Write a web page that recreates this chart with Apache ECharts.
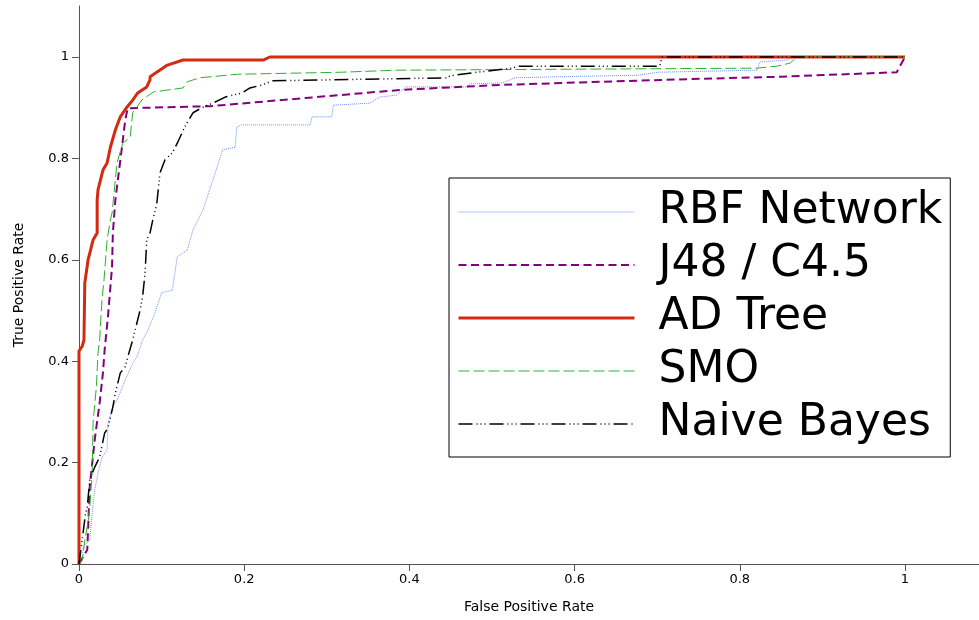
<!DOCTYPE html>
<html>
<head>
<meta charset="utf-8">
<title>ROC curves</title>
<script src="https://cdn.jsdelivr.net/npm/echarts@6/dist/echarts.min.js"></script>
<style>
html,body{margin:0;padding:0;background:#fff;}
#chart{width:979px;height:620px;}
</style>
</head>
<body>
<div id="chart"></div>
<script>
// ROC points [false positive rate, true positive rate]
var names = ["RBF Network", "J48 / C4.5", "AD Tree", "SMO", "Naive Bayes"];
var tickValues = [0, 0.2, 0.4, 0.6, 0.8, 1];

var rbfNetwork = [[0,0],[0.004,0.008],[0.005,0.034],[0.013,0.047],[0.016,0.101],[0.019,0.146],[0.023,0.179],[0.028,0.211],[0.034,0.225],[0.035,0.278],[0.041,0.31],[0.046,0.323],[0.056,0.363],[0.065,0.396],[0.07,0.408],[0.077,0.442],[0.082,0.456],[0.092,0.495],[0.1,0.535],[0.113,0.54],[0.116,0.574],[0.119,0.606],[0.131,0.619],[0.138,0.659],[0.15,0.698],[0.162,0.757],[0.174,0.817],[0.189,0.822],[0.191,0.862],[0.197,0.866],[0.28,0.866],[0.282,0.882],[0.306,0.882],[0.308,0.905],[0.352,0.909],[0.364,0.921],[0.385,0.925],[0.395,0.941],[0.471,0.941],[0.473,0.947],[0.513,0.949],[0.528,0.959],[0.579,0.961],[0.676,0.964],[0.701,0.97],[0.821,0.974],[0.824,0.99],[0.857,0.994],[0.864,1],[1,1]];

var j48 = [[0,0],[0.01,0.028],[0.013,0.152],[0.019,0.245],[0.025,0.318],[0.029,0.377],[0.031,0.422],[0.035,0.487],[0.04,0.586],[0.041,0.653],[0.044,0.718],[0.046,0.744],[0.052,0.822],[0.056,0.876],[0.059,0.899],[0.159,0.903],[0.288,0.921],[0.389,0.935],[0.51,0.945],[0.631,0.951],[0.752,0.957],[0.849,0.961],[0.99,0.97],[0.998,0.994],[1,1]];

var adTree = [[0,0],[0,0.42],[0.004,0.43],[0.006,0.442],[0.007,0.554],[0.011,0.6],[0.017,0.639],[0.022,0.653],[0.022,0.718],[0.023,0.738],[0.029,0.777],[0.034,0.791],[0.038,0.822],[0.044,0.856],[0.05,0.882],[0.058,0.901],[0.065,0.915],[0.071,0.929],[0.082,0.941],[0.086,0.955],[0.086,0.961],[0.107,0.984],[0.126,0.994],[0.223,0.994],[0.231,1],[1,1]];

var smo = [[0,0],[0.004,0.008],[0.007,0.047],[0.011,0.083],[0.013,0.112],[0.016,0.179],[0.017,0.278],[0.021,0.349],[0.023,0.416],[0.025,0.442],[0.028,0.527],[0.03,0.554],[0.034,0.639],[0.038,0.679],[0.04,0.692],[0.046,0.791],[0.053,0.83],[0.062,0.842],[0.065,0.89],[0.076,0.915],[0.09,0.931],[0.126,0.939],[0.131,0.951],[0.146,0.959],[0.192,0.966],[0.318,0.97],[0.385,0.974],[0.821,0.978],[0.845,0.982],[0.861,0.988],[0.869,1],[1,1]];

var naiveBayes = [[0,0],[0.008,0.1],[0.01,0.112],[0.013,0.166],[0.019,0.191],[0.025,0.211],[0.031,0.258],[0.035,0.268],[0.041,0.31],[0.044,0.337],[0.05,0.377],[0.056,0.389],[0.059,0.408],[0.065,0.442],[0.074,0.501],[0.077,0.527],[0.08,0.574],[0.082,0.639],[0.086,0.653],[0.09,0.684],[0.094,0.708],[0.098,0.771],[0.104,0.797],[0.113,0.811],[0.119,0.83],[0.128,0.862],[0.138,0.89],[0.15,0.901],[0.162,0.909],[0.177,0.921],[0.197,0.929],[0.207,0.939],[0.222,0.945],[0.234,0.953],[0.446,0.959],[0.449,0.963],[0.482,0.97],[0.525,0.978],[0.531,0.982],[0.703,0.982],[0.706,1],[1,1]];

var colors = ["#6a8ff0", "#800080", "#d42a10", "#2cb02c", "#000"];
var widths = [1, 2, 3, 1, 1.5];
var dashes = [[1, 1], [8, 4.5], "solid", [11, 4], [14, 4, 1, 3, 1, 3, 1, 4]];
var font = "DejaVu Sans";

function lineSeries(i, data) {
    return {
        name: names[i],
        type: "line",
        data: data,
        symbol: "none",
        animation: false,
        lineStyle: {color: colors[i], width: widths[i], type: dashes[i]},
        itemStyle: {color: colors[i]}
    };
}

function axisBase(name, gap, maxv, labelGap) {
    return {
        type: "value",
        min: 0,
        max: maxv,
        name: name,
        nameLocation: "middle",
        nameGap: gap,
        nameTextStyle: {fontFamily: font, fontSize: 14, color: "#000"},
        splitLine: {show: false},
        axisLine: {show: true, lineStyle: {color: "#555", width: 1}},
        axisTick: {show: true, inside: false, length: 7, customValues: tickValues, lineStyle: {color: "#555"}},
        axisLabel: {fontFamily: font, fontSize: 13, color: "#000", customValues: tickValues, margin: labelGap}
    };
}

// legend entries carry their own line width so the thick AD Tree sample shows
var legendData = names.map(function (n, i) {
    return {name: n, lineStyle: {color: colors[i], width: widths[i], type: dashes[i]}};
});

var chart = echarts.init(document.getElementById("chart"));
var option = {
    backgroundColor: "#fff",
    animation: false,
    grid: {left: 79, right: 0, top: 6, bottom: 56, containLabel: false},
    xAxis: axisBase("False Positive Rate", 36, 1.0896, 9),
    yAxis: axisBase("True Positive Rate", 53, 1.1006, 10),
    legend: {
        data: legendData,
        orient: "vertical",
        left: 449,
        top: 178,
        padding: [12, 8, 11, 8],
        itemWidth: 176,
        itemHeight: 14,
        itemGap: 9,
        borderColor: "#000",
        borderWidth: 1,
        backgroundColor: "#fff",
        itemStyle: {opacity: 0},
        textStyle: {fontFamily: font, fontSize: 44, lineHeight: 44, color: "#000", padding: [0, 0, 0, 19]}
    },
    series: [
        lineSeries(0, rbfNetwork),
        lineSeries(1, j48),
        lineSeries(2, adTree),
        lineSeries(3, smo),
        lineSeries(4, naiveBayes)
    ]
};
chart.setOption(option);
</script>
</body>
</html>
